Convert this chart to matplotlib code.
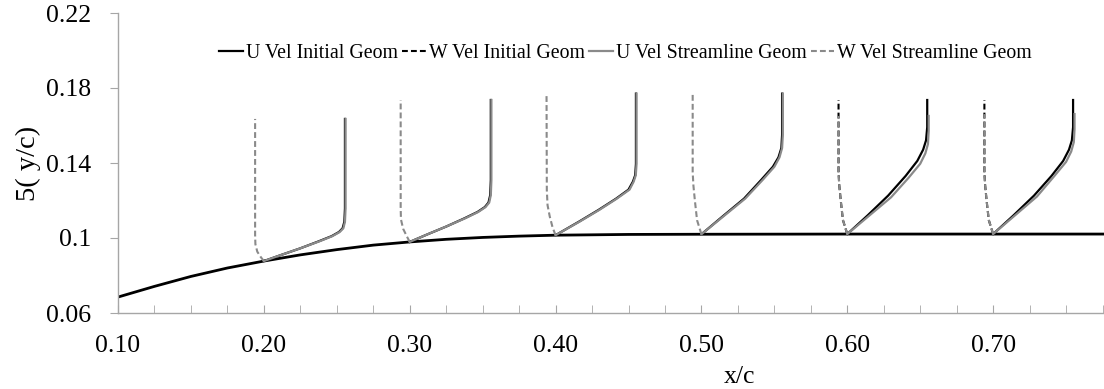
import numpy as np
import matplotlib
matplotlib.use("Agg")
import matplotlib.pyplot as plt
from matplotlib.ticker import FixedLocator, MultipleLocator

plt.rcParams['font.family'] = ['Liberation Serif', 'DejaVu Serif']

# wall (surface) line
wall_x = [0.10, 0.125, 0.15, 0.175, 0.20, 0.225, 0.25, 0.275, 0.30, 0.325,
          0.35, 0.375, 0.40, 0.45, 0.50, 0.60, 0.70, 0.776]
wall_y = [0.0685, 0.0742, 0.0795, 0.0840, 0.0877, 0.0910, 0.0938, 0.0962,
          0.0979, 0.0993, 0.1003, 0.1010, 0.1015, 0.1019, 0.1020, 0.1021,
          0.1021, 0.1021]

stations = [0.2, 0.3, 0.4, 0.5, 0.6, 0.7]

# U velocity profiles, streamline geometry (offset from station, height above wall)
u_stream_dx = [
    [0, 0.012, 0.025, 0.038, 0.047, 0.052, 0.0545, 0.0556, 0.056, 0.056],
    [0, 0.012, 0.025, 0.038, 0.047, 0.052, 0.0545, 0.0556, 0.056, 0.056],
    [0, 0.0164, 0.030, 0.042, 0.0507, 0.0535, 0.0550, 0.0555, 0.0555],
    [0, 0.015, 0.030, 0.042, 0.050, 0.0535, 0.0553, 0.0558, 0.0558],
    [0, 0.015, 0.030, 0.042, 0.050, 0.0535, 0.0553, 0.0558, 0.0558],
    [0, 0.015, 0.030, 0.042, 0.050, 0.0535, 0.0553, 0.0558, 0.0558],
]
u_stream_dy = [
    [0, 0.0033, 0.0068, 0.0105, 0.0133, 0.0155, 0.0175, 0.021, 0.028, 0.0758],
    [0, 0.0040, 0.0082, 0.0126, 0.0160, 0.0186, 0.021, 0.025, 0.033, 0.0757],
    [0, 0.0072, 0.0135, 0.0195, 0.0243, 0.0285, 0.032, 0.038, 0.0755],
    [0, 0.0095, 0.019, 0.029, 0.036, 0.041, 0.046, 0.053, 0.075],
    [0, 0.0098, 0.0196, 0.030, 0.0375, 0.043, 0.048, 0.055, 0.063],
    [0, 0.0100, 0.0200, 0.031, 0.0385, 0.044, 0.049, 0.056, 0.064],
]

# U velocity profiles, initial geometry
u_init_dx = [
    [0, 0.012, 0.025, 0.0375, 0.0465, 0.0515, 0.054, 0.0552, 0.0556, 0.0556],
    [0, 0.012, 0.025, 0.0375, 0.0465, 0.0515, 0.054, 0.0552, 0.0556, 0.0556],
    [0, 0.016, 0.0295, 0.0415, 0.050, 0.053, 0.0546, 0.0551, 0.0551],
    [0, 0.0145, 0.0292, 0.041, 0.049, 0.0528, 0.0548, 0.0553, 0.0553],
    [0, 0.014, 0.028, 0.040, 0.048, 0.052, 0.054, 0.0548, 0.0548],
    [0, 0.014, 0.028, 0.040, 0.048, 0.052, 0.054, 0.0548, 0.0548],
]
u_init_dy = [
    [0, 0.0033, 0.0068, 0.0105, 0.0133, 0.0155, 0.0175, 0.021, 0.028, 0.0758],
    [0, 0.0040, 0.0082, 0.0126, 0.0160, 0.0186, 0.021, 0.025, 0.033, 0.0757],
    [0, 0.0072, 0.0135, 0.0195, 0.0243, 0.0285, 0.032, 0.038, 0.0755],
    [0, 0.0095, 0.019, 0.029, 0.036, 0.041, 0.046, 0.053, 0.075],
    [0, 0.0100, 0.0205, 0.031, 0.039, 0.045, 0.050, 0.057, 0.0715],
    [0, 0.0100, 0.0205, 0.031, 0.039, 0.045, 0.050, 0.057, 0.0715],
]

# W velocity profiles, streamline geometry
w_stream_dx = [
    [0, -0.002, -0.0045, -0.0058, -0.006, -0.006],
    [0, -0.002, -0.0045, -0.006, -0.0062, -0.0062],
    [0, -0.002, -0.004, -0.0055, -0.006, -0.0062],
    [0, -0.003, -0.0045, -0.0055, -0.006, -0.006],
    [0, -0.003, -0.0045, -0.0055, -0.006, -0.006],
    [0, -0.003, -0.0045, -0.0055, -0.006, -0.006],
]
w_stream_dy = [
    [0, 0.002, 0.005, 0.009, 0.014, 0.0758],
    [0, 0.003, 0.007, 0.012, 0.018, 0.0757],
    [0, 0.004, 0.010, 0.016, 0.024, 0.0755],
    [0, 0.0075, 0.018, 0.026, 0.033, 0.075],
    [0, 0.0075, 0.018, 0.026, 0.033, 0.063],
    [0, 0.0075, 0.018, 0.026, 0.033, 0.064],
]

# W velocity profiles, initial geometry (only visible at the last two stations)
w_init_stations = [0.6, 0.7]
w_init_dx = [
    [0, -0.003, -0.0045, -0.0055, -0.006, -0.006],
    [0, -0.003, -0.0045, -0.0055, -0.006, -0.006],
]
w_init_dy = [
    [0, 0.0075, 0.018, 0.026, 0.033, 0.0715],
    [0, 0.0075, 0.018, 0.026, 0.033, 0.0715],
]

y_ticks = [0.06, 0.1, 0.14, 0.18, 0.22]
y_tick_labels = ['0.06', '0.1', '0.14', '0.18', '0.22']
x_ticks = [0.1, 0.2, 0.3, 0.4, 0.5, 0.6, 0.7]
x_tick_labels = ['0.10', '0.20', '0.30', '0.40', '0.50', '0.60', '0.70']

gray = '#8a8a8a'
dash = (0, (2.8, 1.5))

fig = plt.figure(figsize=(11.04, 3.89), dpi=100)
ax = fig.add_axes([118 / 1104, 76 / 389, 986 / 1104, 300 / 389])

ax.plot(wall_x, wall_y, color='black', lw=2.0, zorder=2)

for i, x0 in enumerate(stations):
    yw = np.interp(x0, wall_x, wall_y)
    ax.plot(x0 + np.array(u_init_dx[i]), yw + np.array(u_init_dy[i]),
            color='black', lw=1.6, zorder=3,
            label='U Vel Initial Geom' if i == 0 else None)

for i, x0 in enumerate(w_init_stations):
    yw = np.interp(x0, wall_x, wall_y)
    ax.plot(x0 + np.array(w_init_dx[i]), yw + np.array(w_init_dy[i]),
            color='black', lw=1.5, ls=dash, zorder=3,
            label='W Vel Initial Geom' if i == 0 else None)

for i, x0 in enumerate(stations):
    yw = np.interp(x0, wall_x, wall_y)
    ax.plot(x0 + np.array(u_stream_dx[i]), yw + np.array(u_stream_dy[i]),
            color=gray, lw=1.6, zorder=4,
            label='U Vel Streamline Geom' if i == 0 else None)
    ax.plot(x0 + np.array(w_stream_dx[i]), yw + np.array(w_stream_dy[i]),
            color=gray, lw=1.5, ls=dash, zorder=4,
            label='W Vel Streamline Geom' if i == 0 else None)

ax.set_xlim(0.1, 0.776)
ax.set_ylim(0.06, 0.22)

for s in ['top', 'right']:
    ax.spines[s].set_visible(False)
for s in ['left', 'bottom']:
    ax.spines[s].set_color('#a6a6a6')
    ax.spines[s].set_linewidth(1.0)

ax.yaxis.set_major_locator(FixedLocator(y_ticks))
ax.set_yticklabels(y_tick_labels)
ax.set_xticks(x_ticks)
ax.set_xticklabels(x_tick_labels)
ax.xaxis.set_minor_locator(MultipleLocator(0.025))
ax.tick_params(axis='x', which='both', direction='in', length=6,
               color='#a6a6a6', labelsize=18.5, pad=16)
ax.tick_params(axis='y', which='major', direction='out', length=6,
               color='#a6a6a6', labelsize=18.5, pad=13)

fig.text(740 / 1104, 1 - 377 / 389, 'x/c', fontsize=18.5,
         ha='center', va='center')
fig.text(28 / 1104, 1 - 163 / 389, '5( y/c)', rotation=90, fontsize=20.5,
         ha='center', va='center')

leg = ax.legend(loc='center', bbox_to_anchor=(0.515, 0.865), ncol=4,
                frameon=False, fontsize=14.3, handlelength=1.2,
                handletextpad=0.15, columnspacing=0.2, borderpad=0.1)

fig.savefig('out.png', dpi=100)
